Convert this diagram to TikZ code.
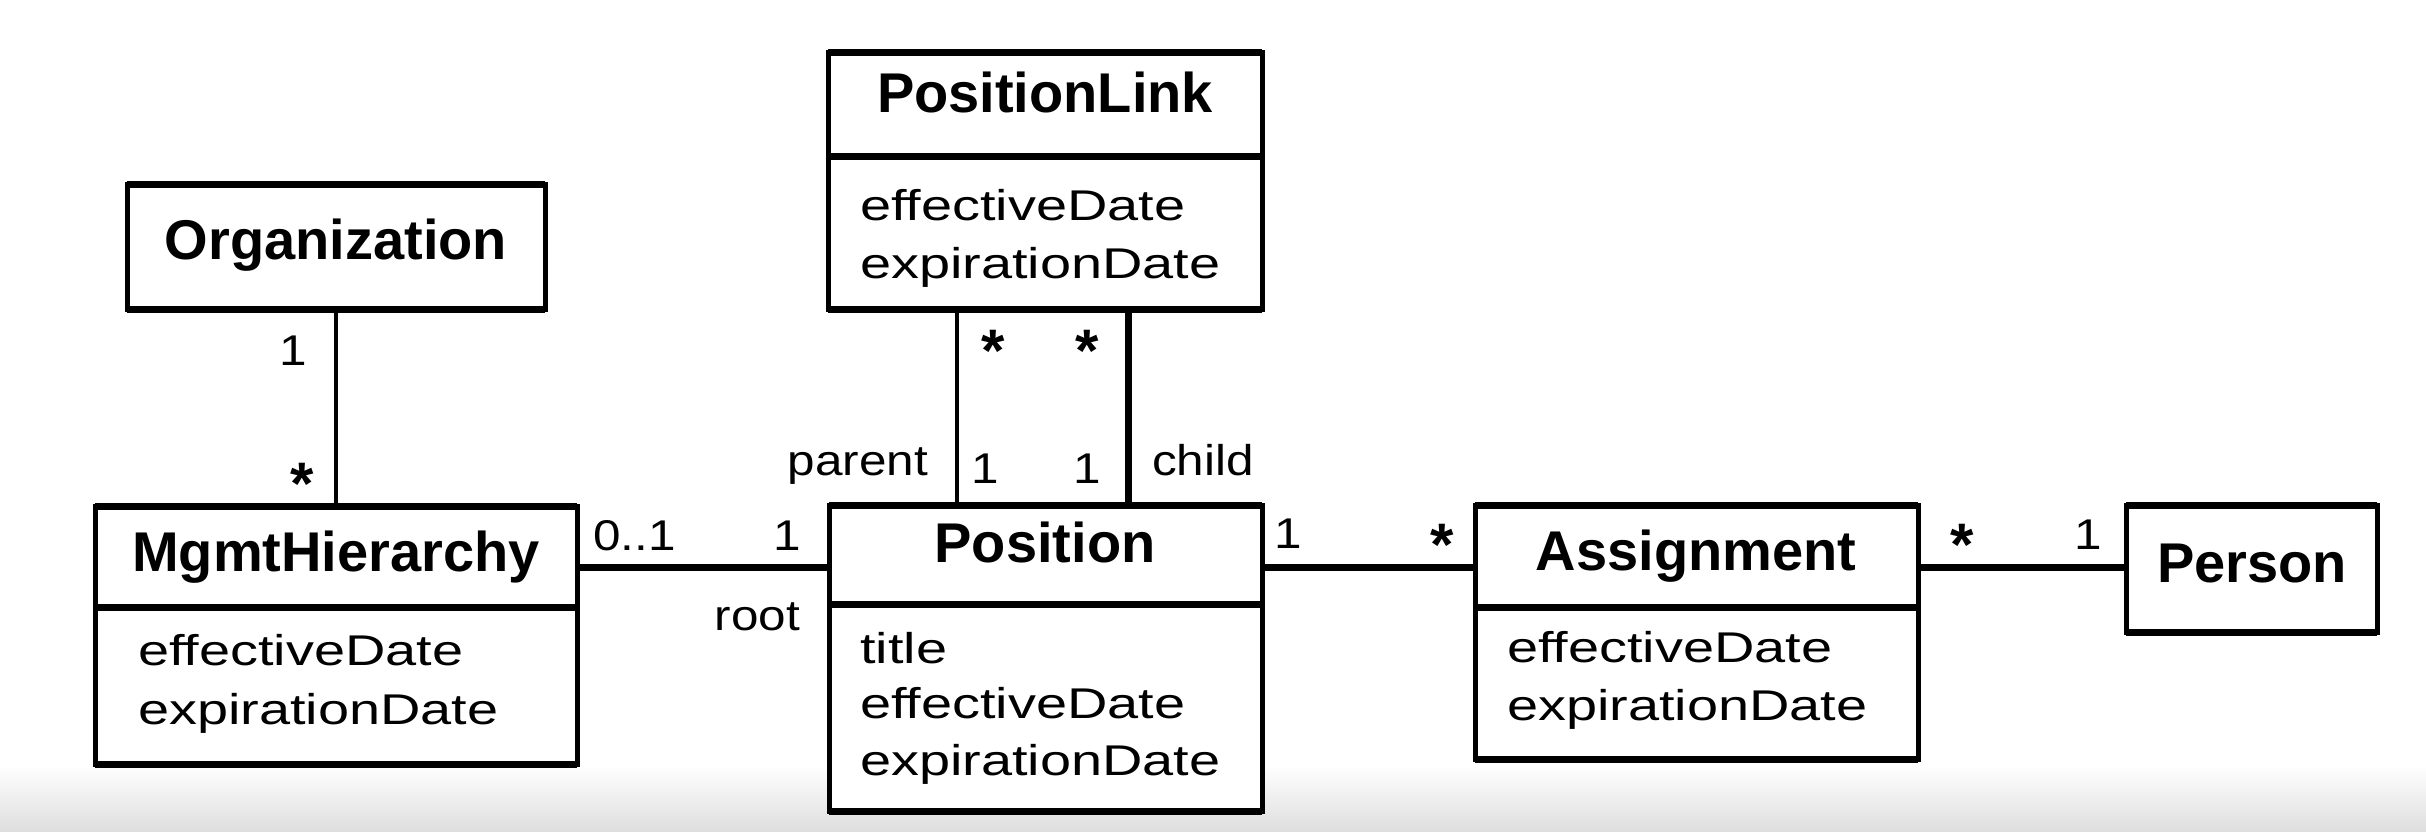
\documentclass[tikz,border=0pt]{standalone}
\usepackage{fontspec}
\setmainfont{Liberation Sans}
\newfontfamily\attrf[FakeStretch=1.3]{Liberation Sans}
\newfontfamily\labf[FakeStretch=1.15]{Liberation Sans}
\usetikzlibrary{calc}
\tikzset{
  cls/.style={draw, line width=5pt, fill=white, inner sep=0pt, outer sep=0pt, anchor=north west},
  heavy/.style={line width=7pt},
  ttl/.style={font=\bfseries\fontsize{56}{60}\selectfont, anchor=base, inner sep=0pt},
  attr/.style={font=\attrf\fontsize{43}{58}\selectfont, anchor=base west, inner sep=0pt, align=left},
  lab/.style={font=\labf\fontsize{43}{50}\selectfont, inner sep=0pt},
  star/.style={font=\bfseries\fontsize{60}{60}\selectfont, anchor=base, inner sep=0pt},
  thinline/.style={line width=4pt},
  assoc/.style={line width=7pt},
}
\begin{document}
\begin{tikzpicture}[x=1pt,y=-1pt]
\useasboundingbox (0,0) rectangle (2426,832);
\shade[top color=white, bottom color=black!13] (0,765) rectangle (2426,832);

% ---- classes ----
\node[cls, minimum width=418pt, minimum height=125pt] (org) at (127,184) {};
\node[cls, minimum width=434pt, minimum height=256pt] (plink) at (828,53) {};
\node[cls, minimum width=482pt, minimum height=258pt] (mgmt) at (95,506) {};
\node[cls, minimum width=433pt, minimum height=306pt] (pos) at (829,505) {};
\node[cls, minimum width=443pt, minimum height=254pt] (asg) at (1475,505) {};
\node[cls, minimum width=251pt, minimum height=127pt] (person) at (2126,505) {};

% heavier top / bottom edges and dividers
\foreach \b in {org,plink,mgmt,pos,asg,person}{
  \draw[heavy] (\b.north west) -- (\b.north east);
  \draw[heavy] (\b.south west) -- (\b.south east);
}
\draw[heavy] ([yshift=-104pt]plink.north west) -- ([yshift=-104pt]plink.north east);
\draw[heavy] ([yshift=-101pt]mgmt.north west) -- ([yshift=-101pt]mgmt.north east);
\draw[heavy] ([yshift=-99pt]pos.north west) -- ([yshift=-99pt]pos.north east);
\draw[heavy] ([yshift=-102pt]asg.north west) -- ([yshift=-102pt]asg.north east);

% titles
\node[ttl] (torg) at (336,259) {Organization};
\node[ttl] (tplink) at (1045,113) {PositionLink};
\node[ttl] (tmgmt) at (336,571) {MgmtHierarchy};
\node[ttl] (tpos) at (1045,562) {Position};
\node[ttl] (tasg) at (1696,570) {Assignment};
\node[ttl] (tperson) at (2252,582) {Person};

% attributes
\node[attr] (aplink1) at (860,220) {effectiveDate};
\node[attr] (aplink2) at (860,278) {expirationDate};
\node[attr] (amgmt1) at (138,665) {effectiveDate};
\node[attr] (amgmt2) at (138,724) {expirationDate};
\node[attr] (apos1) at (860,663) {title};
\node[attr] (apos2) at (860,718) {effectiveDate};
\node[attr] (apos3) at (860,775) {expirationDate};
\node[attr] (aasg1) at (1507,662) {effectiveDate};
\node[attr] (aasg2) at (1507,720) {expirationDate};

% ---- connectors ----
\coordinate (ry) at (0,567);
\coordinate (pl) at (957,0);
\coordinate (cl) at (1128,0);
\draw[thinline] (org.south) -- (mgmt.north);
\draw[assoc] (ry -| mgmt.east) -- (ry -| pos.west);
\draw[assoc] (ry -| pos.east) -- (ry -| asg.west);
\draw[assoc] (ry -| asg.east) -- (ry -| person.west);
\draw[thinline] (pl |- plink.south) -- (pl |- pos.north);
\draw[assoc] (cl |- plink.south) -- (cl |- pos.north);

% ---- multiplicities and roles ----
\node[lab, anchor=base] (m1) at (293,365) {1};
\node[star] (m2) at (302,504) {*};
\node[lab, anchor=base west] (m3) at (593,550) {0..1};
\node[lab, anchor=base] (m4) at (787,550) {1};
\node[lab, anchor=base east] (r1) at (800,630) {root};
\node[star] (m5) at (993,371) {*};
\node[star] (m6) at (1087,371) {*};
\node[lab, anchor=base] (m7) at (985,483) {1};
\node[lab, anchor=base] (m8) at (1087,483) {1};
\node[lab, anchor=base east] (r2) at (928,475) {parent};
\node[lab, anchor=base west] (r3) at (1152,475) {child};
\node[lab, anchor=base] (m9) at (1288,548) {1};
\node[star] (m10) at (1442,565) {*};
\node[star] (m11) at (1962,565) {*};
\node[lab, anchor=base] (m12) at (2088,549) {1};
\end{tikzpicture}
\end{document}
